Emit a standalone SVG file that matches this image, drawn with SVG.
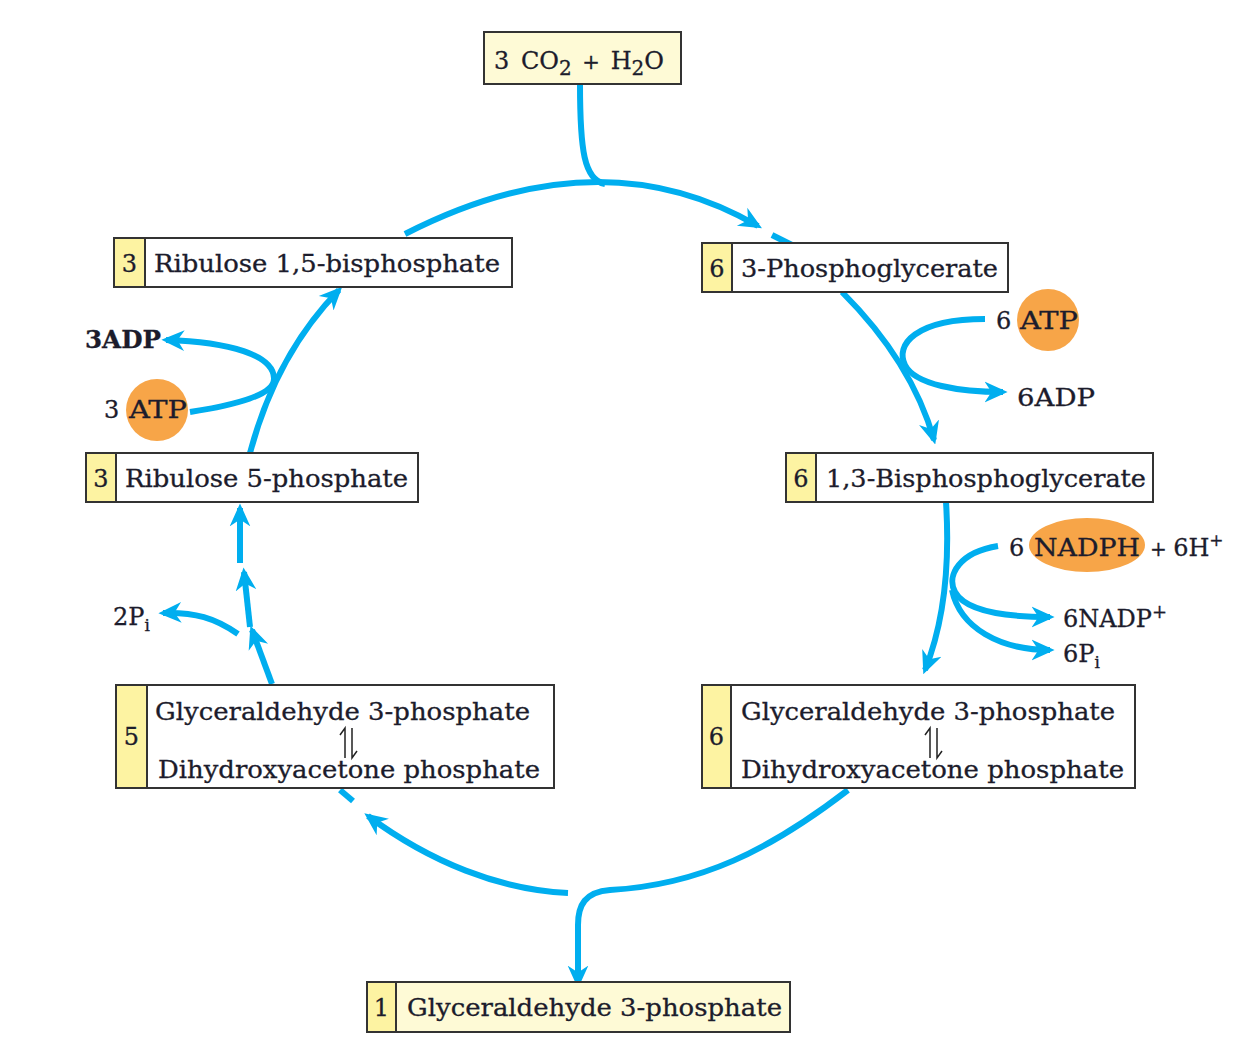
<svg xmlns="http://www.w3.org/2000/svg" width="1243" height="1039" viewBox="0 0 1243 1039">
<style>
.box{fill:#ffffff;stroke:#333;stroke-width:2}
.lbox{fill:#fefad6;stroke:#333;stroke-width:2}
.num{fill:#fdf3a2;stroke:#333;stroke-width:2}
.t{font-family:"DejaVu Serif","Liberation Serif",serif;font-size:24px;fill:#1c1c2c;stroke:#1c1c2c;stroke-width:0.3}
.c{stroke:#00aeef;stroke-width:6;fill:none;stroke-linecap:butt}
.eq{stroke:#222;stroke-width:1.5;fill:none}
.org{fill:#f7a548}
</style>
<defs>
<marker id="ah" viewBox="0 0 20 20" refX="16" refY="10" markerWidth="23" markerHeight="23" markerUnits="userSpaceOnUse" orient="auto">
<path d="M0,1 L20,10 L0,19 L6,10 z" fill="#00aeef"/>
</marker>
</defs>
<rect width="1243" height="1039" fill="#fff"/>

<g id="connectors">
<path class="c" d="M580,84 C580,150 584,180 605,184"/>
<path class="c" d="M405,234 Q600,134 758,226" marker-end="url(#ah)"/>
<path class="c" d="M772,235 L792,245"/>
<path class="c" d="M842,292 Q912,362 934,440" marker-end="url(#ah)"/>
<path class="c" d="M985,319 C915,319 895,345 905,365 C915,385 960,392 1003,392" marker-end="url(#ah)"/>
<path class="c" d="M946,502 C950,565 945,620 925,670" marker-end="url(#ah)"/>
<path class="c" d="M998,546 C960,552 946,575 955,592 C965,610 1000,617 1050,617" marker-end="url(#ah)"/>
<path class="c" d="M952,590 C960,628 1000,650 1050,650" marker-end="url(#ah)"/>
<path class="c" d="M848,790 C770,850 700,885 610,890 C585,892 578,905 578,925 L578,984" marker-end="url(#ah)"/>
<path class="c" d="M568,893 C500,890 430,862 368,816" marker-end="url(#ah)"/>
<path class="c" d="M340,790 L353,801"/>
<path class="c" d="M272,684 L252,630" marker-end="url(#ah)"/>
<path class="c" d="M250,627 L244,572" marker-end="url(#ah)"/>
<path class="c" d="M240,563 L240,508" marker-end="url(#ah)"/>
<path class="c" d="M238,634 C215,618 195,612 163,613" marker-end="url(#ah)"/>
<path class="c" d="M250,453 C268,385 298,332 339,290" marker-end="url(#ah)"/>
<path class="c" d="M190,412 C235,405 275,395 274,378 C273,355 230,342 166,340" marker-end="url(#ah)"/>
</g>

<g id="co2">
<rect class="lbox" x="484" y="32" width="197" height="52"/>
<text class="t" x="494" y="69" font-size="28" word-spacing="4">3 CO<tspan font-size="20" dy="6">2</tspan><tspan dy="-6" font-size="21"> + </tspan><tspan>H</tspan><tspan font-size="20" dy="6">2</tspan><tspan dy="-6">O</tspan></text>
</g>

<g id="rubp">
<rect class="box" x="114" y="238" width="398" height="49"/>
<rect class="num" x="114" y="238" width="31" height="49"/>
<text class="t" x="129.5" y="272" text-anchor="middle">3</text>
<text class="t" x="154" y="272" textLength="346" lengthAdjust="spacingAndGlyphs">Ribulose 1,5-bisphosphate</text>
</g>

<g id="pga">
<rect class="box" x="702" y="243" width="306" height="49"/>
<rect class="num" x="702" y="243" width="30" height="49"/>
<text class="t" x="717" y="277" text-anchor="middle">6</text>
<text class="t" x="741" y="277" textLength="257" lengthAdjust="spacingAndGlyphs">3-Phosphoglycerate</text>
</g>

<g id="bpg">
<rect class="box" x="786" y="453" width="367" height="49"/>
<rect class="num" x="786" y="453" width="30" height="49"/>
<text class="t" x="801" y="487" text-anchor="middle">6</text>
<text class="t" x="826" y="487" textLength="320" lengthAdjust="spacingAndGlyphs">1,3-Bisphosphoglycerate</text>
</g>

<g id="ru5p">
<rect class="box" x="86" y="453" width="332" height="49"/>
<rect class="num" x="86" y="453" width="30" height="49"/>
<text class="t" x="101" y="487" text-anchor="middle">3</text>
<text class="t" x="125" y="487" textLength="283" lengthAdjust="spacingAndGlyphs">Ribulose 5-phosphate</text>
</g>

<g id="g3p-left">
<rect class="box" x="116" y="685" width="438" height="103"/>
<rect class="num" x="116" y="685" width="31" height="103"/>
<text class="t" x="131.5" y="745" text-anchor="middle">5</text>
<text class="t" x="155" y="720" textLength="375" lengthAdjust="spacingAndGlyphs">Glyceraldehyde 3-phosphate</text>
<text class="t" x="158" y="778" textLength="382" lengthAdjust="spacingAndGlyphs">Dihydroxyacetone phosphate</text>
<path class="eq" d="M345,758 L345,728 L340,735"/>
<path class="eq" d="M352,728 L352,758 L357,751"/>
</g>

<g id="g3p-right">
<rect class="box" x="702" y="685" width="433" height="103"/>
<rect class="num" x="702" y="685" width="29" height="103"/>
<text class="t" x="716.5" y="745" text-anchor="middle">6</text>
<text class="t" x="741" y="720" textLength="374" lengthAdjust="spacingAndGlyphs">Glyceraldehyde 3-phosphate</text>
<text class="t" x="741" y="778" textLength="383" lengthAdjust="spacingAndGlyphs">Dihydroxyacetone phosphate</text>
<path class="eq" d="M930,758 L930,728 L925,735"/>
<path class="eq" d="M937,728 L937,758 L942,751"/>
</g>

<g id="g3p-out">
<rect class="lbox" x="367" y="982" width="423" height="50"/>
<rect class="num" x="367" y="982" width="29" height="50"/>
<text class="t" x="381.5" y="1016" text-anchor="middle">1</text>
<text class="t" x="407" y="1016" textLength="375" lengthAdjust="spacingAndGlyphs">Glyceraldehyde 3-phosphate</text>
</g>

<g id="atp-left">
<circle class="org" cx="157" cy="410" r="31"/>
<text class="t" x="104" y="418">3</text>
<text class="t" x="129" y="418" textLength="58" lengthAdjust="spacingAndGlyphs">ATP</text>
</g>
<g id="adp-left">
<text class="t" x="85" y="348" font-weight="bold" textLength="76" lengthAdjust="spacingAndGlyphs">3ADP</text>
</g>

<g id="atp-right">
<circle class="org" cx="1048" cy="320" r="31"/>
<text class="t" x="996" y="329">6</text>
<text class="t" x="1020" y="329" textLength="58" lengthAdjust="spacingAndGlyphs">ATP</text>
</g>
<g id="adp-right">
<text class="t" x="1017" y="406" textLength="78" lengthAdjust="spacingAndGlyphs">6ADP</text>
</g>

<g id="nadph">
<ellipse class="org" cx="1087" cy="545" rx="58" ry="27"/>
<text class="t" x="1009" y="556">6</text>
<text class="t" x="1034" y="556" textLength="106" lengthAdjust="spacingAndGlyphs">NADPH</text>
<text class="t" x="1150" y="556"><tspan font-size="20">+ </tspan>6H<tspan font-size="17" dy="-10">+</tspan></text>
</g>
<g id="nadp">
<text class="t" x="1063" y="627">6NADP<tspan font-size="18" dy="-9">+</tspan></text>
</g>
<g id="pi-right">
<text class="t" x="1063" y="662">6P<tspan font-size="17" dy="6">i</tspan></text>
</g>
<g id="pi-left">
<text class="t" x="113" y="625">2P<tspan font-size="17" dy="6">i</tspan></text>
</g>
</svg>
